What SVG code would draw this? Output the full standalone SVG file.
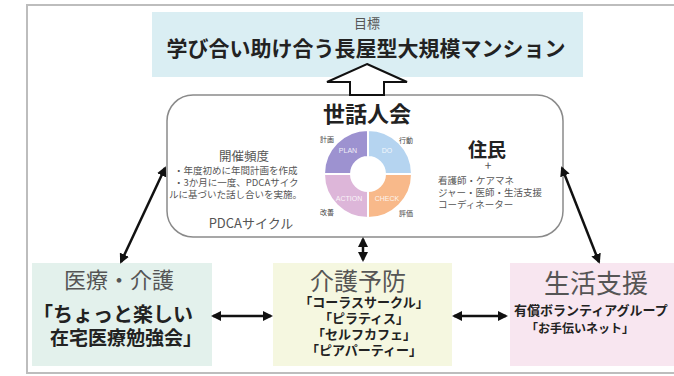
<svg xmlns="http://www.w3.org/2000/svg" width="674" height="376" viewBox="0 0 674 376">
<defs>
<style>
text{font-family:"Noto Sans CJK JP","Noto Sans",sans-serif;}
.g{fill:#555;}
.k{fill:#222;}
.b{font-weight:bold;}
.m{text-anchor:middle;}
.seg{stroke:#fff;stroke-width:2;}
.sl{fill:#fff;font-size:7px;font-family:"Liberation Sans",sans-serif;text-anchor:middle;opacity:0.85;}
.pl{fill:#444;font-size:7px;text-anchor:middle;}
.sm{font-size:9.5px;}
.con{stroke:#111;stroke-width:2.5;fill:none;marker-start:url(#ah);marker-end:url(#ah);}
</style>
<marker id="ah" viewBox="0 0 10 10" refX="8" refY="5" markerWidth="4" markerHeight="4" orient="auto-start-reverse" markerUnits="strokeWidth">
<path d="M0,0 L10,5 L0,10 Z" fill="#111"/>
</marker>
</defs>
<rect x="0" y="0" width="674" height="376" fill="#fff"/>
<rect x="27" y="5" width="680" height="368" fill="none" stroke="#bdbdbd" stroke-width="2"/>

<g id="goal">
<rect x="152" y="12" width="431" height="65" fill="#daeef3"/>
<text x="367" y="28" class="g m" font-size="13">目標</text>
<text x="366" y="56" class="k m b" font-size="21">学び合い助け合う長屋型大規模マンション</text>
</g>

<g id="sewaninkai">
<rect x="167" y="95" width="396" height="142" rx="26" ry="26" fill="#fff" stroke="#8a8a8a" stroke-width="1.5"/>
<text x="367" y="122" class="k m b" font-size="22">世話人会</text>
<text x="244" y="161" class="g m" font-size="12.5">開催頻度</text>
<text x="174" y="174" class="g sm">・年度初めに年間計画を作成</text>
<text x="174" y="186" class="g sm">・3か月に一度、PDCAサイク</text>
<text x="169" y="198" class="g sm">ルに基づいた話し合いを実施。</text>
<text x="251" y="228" class="g m" font-size="13">PDCAサイクル</text>
<g id="pdca">
<path class="seg" fill="#9d92d0" d="M324,174 A44,44 0 0 1 368,130 L368,157 A17,17 0 0 0 351,174 Z"/>
<path class="seg" fill="#b5d4f0" d="M368,130 A44,44 0 0 1 412,174 L385,174 A17,17 0 0 0 368,157 Z"/>
<path class="seg" fill="#f8b98a" d="M412,174 A44,44 0 0 1 368,218 L368,191 A17,17 0 0 0 385,174 Z"/>
<path class="seg" fill="#ddb6d9" d="M368,218 A44,44 0 0 1 324,174 L351,174 A17,17 0 0 0 368,191 Z"/>
<text x="348" y="153" class="sl">PLAN</text>
<text x="387" y="153" class="sl">DO</text>
<text x="349" y="201" class="sl">ACTION</text>
<text x="387" y="201" class="sl">CHECK</text>
<text x="327" y="142" class="pl">計画</text>
<text x="406" y="143" class="pl">行動</text>
<text x="327" y="215" class="pl">改善</text>
<text x="406" y="216" class="pl">評価</text>
</g>
<text x="487" y="157" class="k m b" font-size="19">住民</text>
<text x="488" y="170" class="g m" font-size="12">+</text>
<text x="438" y="184" class="g sm">看護師・ケアマネ</text>
<text x="438" y="196" class="g sm">ジャー・医師・生活支援</text>
<text x="438" y="208" class="g sm">コーディネーター</text>
</g>

<g id="goal-arrow">
<polygon points="367,64 407,82 384,82 384,95 350,95 350,82 327,82" fill="#fff" stroke="#111" stroke-width="2" stroke-linejoin="miter"/>
</g>

<g id="iryo">
<rect x="32" y="263" width="180" height="103" fill="#e3f1ec"/>
<text x="119" y="288" class="g m" font-size="22">医療・介護</text>
<text x="33" y="322" class="k b" font-size="20">「ちょっと楽しい</text>
<text x="50" y="345" class="k b" font-size="19">在宅医療勉強会」</text>
</g>

<g id="kaigo">
<rect x="273" y="263" width="179" height="103" fill="#f5f7e0"/>
<text x="358" y="290" class="g m" font-size="24">介護予防</text>
<text x="364" y="307" class="k m b" font-size="13">「コーラスサークル」</text>
<text x="364" y="323" class="k m b" font-size="13">「ピラティス」</text>
<text x="364" y="339" class="k m b" font-size="13">「セルフカフェ」</text>
<text x="364" y="355" class="k m b" font-size="13">「ピアパーティー」</text>
</g>

<g id="seikatsu">
<rect x="510" y="263" width="170" height="103" fill="#f8e6f0"/>
<text x="596" y="293" class="g m" font-size="26">生活支援</text>
<text x="514" y="315" class="k b" font-size="13">有償ボランティアグループ</text>
<text x="580" y="333" class="k m b" font-size="12">「お手伝いネット」</text>
</g>

<g id="connectors">
<line class="con" x1="165" y1="168" x2="121" y2="262"/>
<line class="con" x1="562" y1="168" x2="599" y2="262"/>
<line class="con" x1="363" y1="239" x2="363" y2="260"/>
<line class="con" x1="213" y1="316" x2="271" y2="316"/>
<line class="con" x1="454" y1="316" x2="506" y2="316"/>
</g>
</svg>
